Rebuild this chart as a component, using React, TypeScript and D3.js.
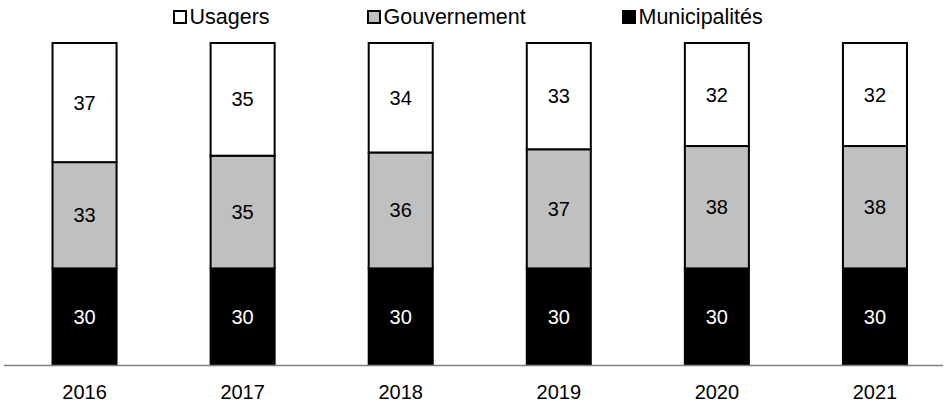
import React from "react";
import * as d3 from "d3";

const years = ["2016", "2017", "2018", "2019", "2020", "2021"];
const municipalites = [30, 30, 30, 30, 30, 30];
const gouvernement = [33, 35, 36, 37, 38, 38];
const usagers = [37, 35, 34, 33, 32, 32];

const seriesNames = ["Municipalités", "Gouvernement", "Usagers"];
const seriesValues = [municipalites, gouvernement, usagers];
const seriesFills = ["#000000", "#c0c0c0", "#ffffff"];
const labelColors = ["#ffffff", "#000000", "#000000"];
const legendOrder = ["Usagers", "Gouvernement", "Municipalités"];
const legendX = [173, 367, 622];

const W = 947;
const H = 408;
const FONT = "'Liberation Sans', Arial, sans-serif";

export default function App() {
  const x = d3
    .scaleBand<string>()
    .domain(years)
    .range([5.5, 954])
    .paddingInner(0.595)
    .paddingOuter(0.2975);
  const y = d3.scaleLinear().domain([0, 100]).range([365, 43]);

  const rows = years.map((yr, i) => {
    const r: any = { year: yr };
    seriesNames.forEach((s, k) => (r[s] = seriesValues[k][i]));
    return r;
  });
  const stacked = d3.stack<any>().keys(seriesNames)(rows);

  return (
    <svg width={W} height={H} style={{ position: "absolute", left: 0, top: 0 }} fontFamily={FONT}>
      <rect x={0} y={0} width={W} height={H} fill="#fff" />
      {stacked.map((layer, k) =>
        layer.map((d, i) => {
          const x0 = x(years[i])!;
          const bw = x.bandwidth();
          const y0 = y(d[1]);
          const y1 = y(d[0]);
          return (
            <g key={`${k}-${i}`}>
              <rect x={x0} y={y0} width={bw} height={y1 - y0} fill={seriesFills[k]} stroke="#000" strokeWidth={2} />
              <text
                x={x0 + bw / 2}
                y={(y0 + y1) / 2}
                dy="0.35em"
                textAnchor="middle"
                fontSize={20}
                fill={labelColors[k]}
              >
                {seriesValues[k][i]}
              </text>
            </g>
          );
        })
      )}
      <line x1={4} x2={943} y1={y(0) + 0.5} y2={y(0) + 0.5} stroke="#808080" strokeWidth={1.5} />
      {years.map((yr) => (
        <text key={yr} x={x(yr)! + x.bandwidth() / 2} y={391.5} dy="0.35em" textAnchor="middle" fontSize={20} fill="#000">
          {yr}
        </text>
      ))}
      {legendOrder.map((name, j) => {
        const k = seriesNames.indexOf(name);
        return (
          <g key={name} transform={`translate(${legendX[j]},0)`}>
            <rect x={1} y={11} width={12} height={12} fill={seriesFills[k]} stroke="#000" strokeWidth={2} />
            <text x={16.5} y={24} fontSize={21.5} fill="#000">
              {name}
            </text>
          </g>
        );
      })}
    </svg>
  );
}
